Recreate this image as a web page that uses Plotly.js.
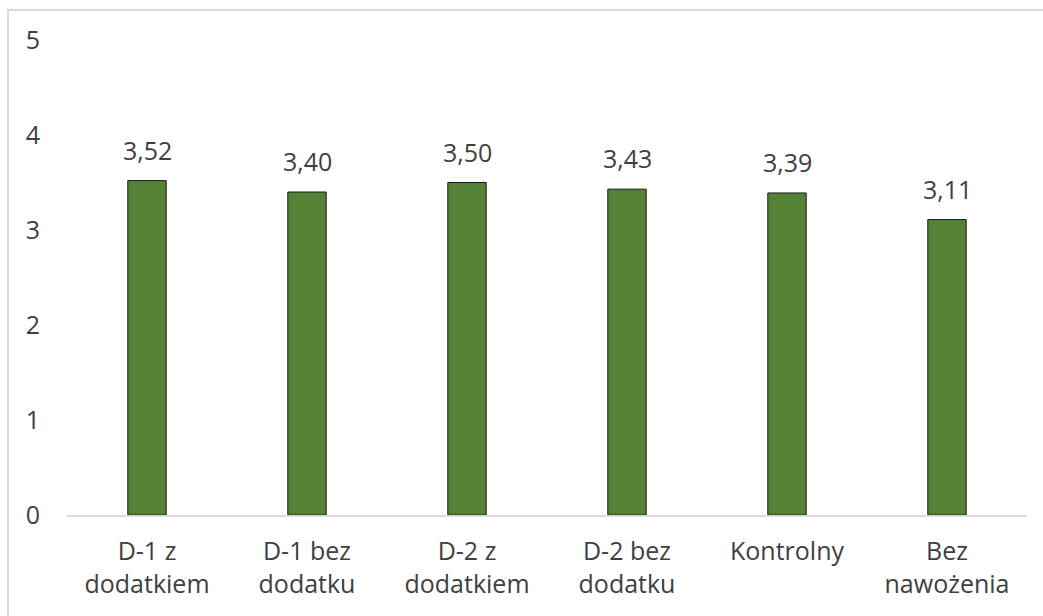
<!DOCTYPE html>
<html>
<head>
<meta charset="utf-8">
<script src="https://cdn.plot.ly/plotly-3.0.1.min.js"></script>
<style>
  html, body { margin: 0; padding: 0; background: #ffffff; }
  #wrap { position: relative; width: 1043px; height: 616px; overflow: hidden; }
  #frame { position: absolute; left: 7px; top: 9px; width: 1100px; height: 700px;
           border-left: 2px solid #d9d9d9; border-top: 2px solid #d9d9d9; box-sizing: border-box; pointer-events: none; z-index: 5; }
  #chart { position: absolute; left: 0; top: 0; width: 1043px; height: 616px; }
</style>
</head>
<body>
<div id="wrap">
  <div id="chart"></div>
  <div id="frame"></div>
</div>
<script>
const categories = ["D-1 z<br>dodatkiem", "D-1 bez<br>dodatku", "D-2 z<br>dodatkiem", "D-2 bez<br>dodatku", "Kontrolny", "Bez<br>nawożenia"];
const values = [3.52, 3.40, 3.50, 3.43, 3.39, 3.11];
const yTicks = [0, 1, 2, 3, 4, 5];

const fontFam = "'Open Sans', 'Noto Sans', sans-serif";
const textColor = "#404040";

const trace = {
  type: "bar",
  x: categories,
  y: values,
  width: 0.24,
  marker: { color: "#548235", line: { color: "#1a1a1a", width: 1 } },
  hoverinfo: "none"
};

const annotations = values.map((v, i) => ({
  x: categories[i],
  y: v,
  xref: "x",
  yref: "y",
  text: v.toFixed(2).replace(".", ","),
  showarrow: false,
  yanchor: "bottom",
  yshift: 12,
  font: { family: fontFam, size: 25, color: textColor }
}));

const layout = {
  width: 1043,
  height: 616,
  margin: { l: 67, r: 16, t: 40, b: 101, pad: 0 },
  paper_bgcolor: "#ffffff",
  plot_bgcolor: "#ffffff",
  showlegend: false,
  bargap: 0.76,
  xaxis: {
    type: "category",
    showline: true,
    linecolor: "#d9d9d9",
    linewidth: 2,
    ticks: "",
    showgrid: false,
    zeroline: false,
    ticklabelstandoff: 13,
    tickfont: { family: fontFam, size: 25, color: textColor }
  },
  yaxis: {
    range: [0, 5],
    tickmode: "array",
    tickvals: yTicks,
    ticktext: yTicks.map(String),
    showline: false,
    showgrid: false,
    zeroline: false,
    ticks: "",
    ticklabelstandoff: 26,
    tickfont: { family: fontFam, size: 25, color: textColor }
  },
  annotations: annotations
};

Plotly.newPlot("chart", [trace], layout, { displayModeBar: false, staticPlot: true });
</script>
</body>
</html>
